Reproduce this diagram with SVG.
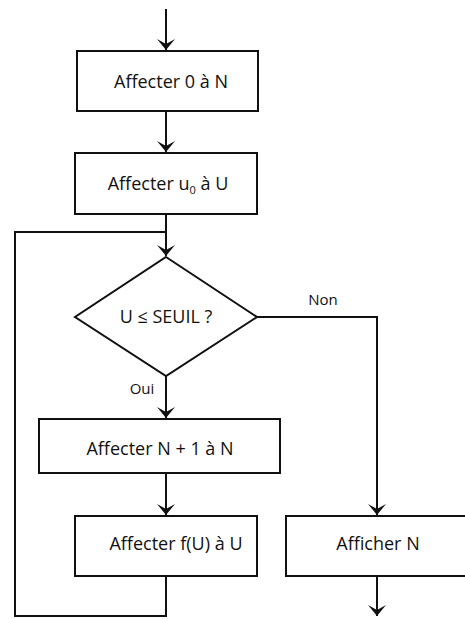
<svg xmlns="http://www.w3.org/2000/svg" width="465" height="619" viewBox="0 0 465 619">
<style>
.box{fill:#fff;stroke:#111;stroke-width:2}
.ln{fill:none;stroke:#111;stroke-width:2}
.t{font-family:"Open Sans","Liberation Sans",sans-serif;font-size:18px;fill:#111;text-anchor:middle}
.s{font-family:"Open Sans","Liberation Sans",sans-serif;font-size:15px;fill:#111;text-anchor:middle}
</style>
<defs>
<marker id="arr" markerUnits="userSpaceOnUse" markerWidth="14" markerHeight="20" viewBox="-12 -10 14 20" refX="0" refY="0" orient="auto">
<path d="M0,0 L-11,-9 L-6,0 L-11,9 Z" fill="#111"/>
</marker>
</defs>
<rect width="465" height="619" fill="#fff"/>
<g id="connectors">
<path class="ln" d="M166,9 V50" marker-end="url(#arr)"/>
<path class="ln" d="M166,111 V152" marker-end="url(#arr)"/>
<path class="ln" d="M166,214 V256" marker-end="url(#arr)"/>
<path class="ln" d="M166,376 V418" marker-end="url(#arr)"/>
<path class="ln" d="M166,473 V515" marker-end="url(#arr)"/>
<path class="ln" d="M166,576 V616 H15 V232 H166"/>
<path class="ln" d="M257,317 H377 V515" marker-end="url(#arr)"/>
<path class="ln" d="M377,576 V616" marker-end="url(#arr)"/>
<text class="s" x="323" y="305">Non</text>
<text class="s" x="142" y="394">Oui</text>
</g>
<g id="n1">
<rect class="box" x="77" y="51" width="181" height="60"/>
<text class="t" x="171" y="88">Affecter 0 à N</text>
</g>
<g id="n2">
<rect class="box" x="75" y="153" width="182" height="61"/>
<text class="t" x="168" y="190">Affecter u<tspan font-size="11" dy="4">0</tspan><tspan dy="-4"> à U</tspan></text>
</g>
<g id="n3">
<polygon class="box" points="166,257 257,317 166,376 75,317"/>
<text class="t" x="166" y="323">U ≤ SEUIL ?</text>
</g>
<g id="n4">
<rect class="box" x="39" y="419" width="241" height="54"/>
<text class="t" x="160" y="455">Affecter N + 1 à N</text>
</g>
<g id="n5">
<rect class="box" x="75" y="516" width="182" height="60"/>
<text class="t" x="176" y="550">Affecter f(U) à U</text>
</g>
<g id="n6">
<rect class="box" x="286" y="516" width="190" height="60"/>
<text class="t" x="378" y="550">Afficher N</text>
</g>
</svg>
